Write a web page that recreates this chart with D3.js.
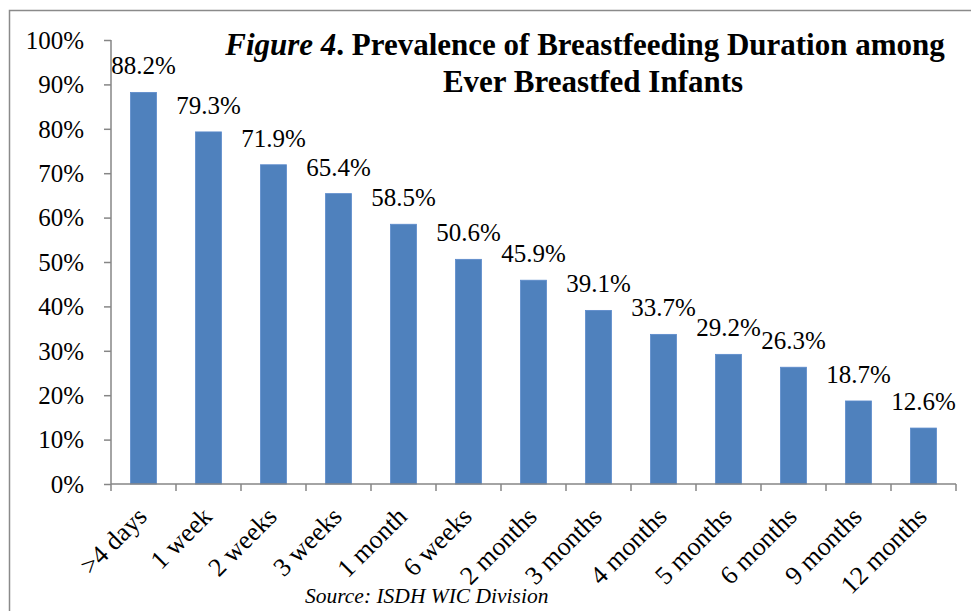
<!DOCTYPE html>
<html>
<head>
<meta charset="utf-8">
<script src="https://cdn.jsdelivr.net/npm/d3@7"></script>
<style>
  body { margin: 0; background: #fff; }
  svg text { font-family: "Liberation Serif", "Times New Roman", serif; fill: #000; }
</style>
</head>
<body>
<div id="chart-area"></div>
<script>
/* Data */
const categories = ['>4 days', '1 week', '2 weeks', '3 weeks', '1 month', '6 weeks',
  '2 months', '3 months', '4 months', '5 months', '6 months', '9 months', '12 months']
const prevalence = [88.2, 79.3, 71.9, 65.4, 58.5, 50.6, 45.9, 39.1, 33.7, 29.2, 26.3, 18.7, 12.6]
const yTicks = [0, 10, 20, 30, 40, 50, 60, 70, 80, 90, 100]

const data = categories.map((c, i) => ({ cat: c, value: prevalence[i] }))

/* Canvas */
const CANVAS_WIDTH = 971
const CANVAS_HEIGHT = 611
const AXIS_COLOR = '#868686'
const BAR_COLOR = '#4F81BD'

const $canvas = d3.select('#chart-area')
  .append('svg')
  .attr('width', CANVAS_WIDTH)
  .attr('height', CANVAS_HEIGHT)

// outer frame (runs off the right and bottom edges)
$canvas.append('rect')
  .attr('x', 9.5)
  .attr('y', 10.5)
  .attr('width', 1000)
  .attr('height', 700)
  .attr('fill', 'none')
  .attr('stroke', '#8a8a8a')
  .attr('stroke-width', 1.5)

/* Scales */
const plot = { left: 111, right: 956, top: 40, bottom: 484 }

const scaleX = d3.scaleBand()
  .domain(categories)
  .range([plot.left, plot.right])

const scaleY = d3.scaleLinear()
  .domain([0, 100])
  .range([plot.bottom, plot.top])

const barWidth = scaleX.bandwidth() * 0.4

/* Bars */
$canvas.append('g')
  .selectAll('rect')
  .data(data)
  .enter()
  .append('rect')
  .attr('x', d => scaleX(d.cat) + (scaleX.bandwidth() - barWidth) / 2)
  .attr('y', d => scaleY(d.value))
  .attr('width', barWidth)
  .attr('height', d => scaleY(0) - scaleY(d.value))
  .attr('fill', BAR_COLOR)
  .attr('stroke', '#5B8ACB')
  .attr('stroke-width', 0.8)

// value labels
$canvas.append('g')
  .selectAll('text')
  .data(data)
  .enter()
  .append('text')
  .attr('x', d => scaleX(d.cat) + scaleX.bandwidth() / 2)
  .attr('y', d => scaleY(d.value) - 18)
  .attr('text-anchor', 'middle')
  .attr('font-size', 25)
  .text(d => d.value.toFixed(1) + '%')

/* Axes */
const yAxisCall = d3.axisLeft(scaleY)
  .tickValues(yTicks)
  .tickSize(7)
  .tickPadding(20)
  .tickFormat(d => d + '%')

const $yAxis = $canvas.append('g')
  .attr('transform', `translate(${plot.left}, 0)`)
  .call(yAxisCall)

$yAxis.selectAll('line, path').attr('stroke', AXIS_COLOR).attr('stroke-width', 1.5)
$yAxis.select('.domain').attr('d', `M0,${plot.top}V${plot.bottom}`)
$yAxis.selectAll('text')
  .attr('font-family', '"Liberation Serif", serif')
  .attr('font-size', 25)
  .attr('dy', '0.33em')

const xAxisCall = d3.axisBottom(scaleX)
  .tickSize(0)
  .tickFormat('')

const $xAxis = $canvas.append('g')
  .attr('transform', `translate(0, ${plot.bottom})`)
  .call(xAxisCall)

$xAxis.select('.domain')
  .attr('d', `M${plot.left},0H${plot.right}`)
  .attr('stroke', AXIS_COLOR)
  .attr('stroke-width', 1.5)

// tick marks on the band edges
$xAxis.selectAll('.edge')
  .data(categories.concat(['end']))
  .enter()
  .append('line')
  .attr('x1', (d, i) => plot.left + i * scaleX.step())
  .attr('x2', (d, i) => plot.left + i * scaleX.step())
  .attr('y1', 0)
  .attr('y2', 7)
  .attr('stroke', AXIS_COLOR)
  .attr('stroke-width', 1.5)

// rotated category labels
$canvas.append('g')
  .selectAll('text')
  .data(categories)
  .enter()
  .append('text')
  .attr('transform', d => `translate(${scaleX(d) + scaleX.bandwidth() / 2 + 5}, ${plot.bottom + 34}) rotate(-45)`)
  .attr('text-anchor', 'end')
  .attr('font-size', 26)
  .text(d => d)

/* Title */
const $title = $canvas.append('text')
  .attr('x', 585)
  .attr('y', 55)
  .attr('text-anchor', 'middle')
  .attr('font-size', 31)
  .attr('font-weight', 'bold')

$title.append('tspan').attr('font-style', 'italic').text('Figure 4')
$title.append('tspan').text('. Prevalence of Breastfeeding Duration among')

$canvas.append('text')
  .attr('x', 593)
  .attr('y', 92)
  .attr('text-anchor', 'middle')
  .attr('font-size', 31)
  .attr('font-weight', 'bold')
  .text('Ever Breastfed Infants')

/* Source */
$canvas.append('text')
  .attr('x', 305)
  .attr('y', 603)
  .attr('font-size', 21.5)
  .attr('font-style', 'italic')
  .text('Source: ISDH WIC Division')
</script>
</body>
</html>
